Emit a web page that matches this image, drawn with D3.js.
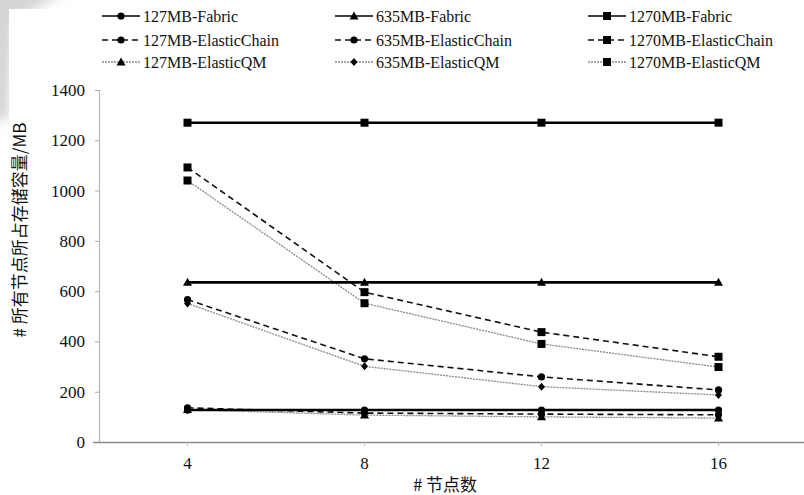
<!DOCTYPE html>
<html>
<head>
<meta charset="utf-8">
<script src="https://cdn.jsdelivr.net/npm/d3@7"></script>
<style>
  html, body { margin: 0; padding: 0; background: #fff; }
  svg { display: block; }
  text { font-family: "Liberation Serif", "Times New Roman", serif; fill: #111; }
  text.cjk { font-family: "Noto Sans CJK SC", "Liberation Serif", serif; }
</style>
</head>
<body>
<svg id="chart" width="804" height="495"></svg>
<script>
// ---- data ----
const nodes = [4, 8, 12, 16];
const yTicks = [0, 200, 400, 600, 800, 1000, 1200, 1400];

const fabric127 = [127, 127, 127, 127];
const fabric635 = [635, 635, 635, 635];
const fabric1270 = [1270, 1270, 1270, 1270];
const chain127 = [136, 115, 111, 108];
const chain635 = [566, 331, 259, 207];
const chain1270 = [1092, 596, 437, 339];
const qm127 = [129, 107, 100, 95];
const qm635 = [551, 301, 220, 187];
const qm1270 = [1040, 552, 390, 298];

const seriesNames = [
  "127MB-Fabric", "635MB-Fabric", "1270MB-Fabric",
  "127MB-ElasticChain", "635MB-ElasticChain", "1270MB-ElasticChain",
  "127MB-ElasticQM", "635MB-ElasticQM", "1270MB-ElasticQM"
];
const xTitle = "# 节点数";
const yTitle = "# 所有节点所占存储容量/MB";

// ---- build series ----
const styles = {
  Fabric: { stroke: "#000", width: 2.6, dash: null },
  ElasticChain: { stroke: "#111", width: 1.6, dash: "6,4" },
  ElasticQM: { stroke: "#8a8a8a", width: 1.3, dash: "2,1" }
};
const series = [
  { name: seriesNames[0], values: fabric127, kind: "Fabric", marker: "circle" },
  { name: seriesNames[1], values: fabric635, kind: "Fabric", marker: "triangle" },
  { name: seriesNames[2], values: fabric1270, kind: "Fabric", marker: "square" },
  { name: seriesNames[3], values: chain127, kind: "ElasticChain", marker: "circle" },
  { name: seriesNames[4], values: chain635, kind: "ElasticChain", marker: "circle" },
  { name: seriesNames[5], values: chain1270, kind: "ElasticChain", marker: "square" },
  { name: seriesNames[6], values: qm127, kind: "ElasticQM", marker: "triangle" },
  { name: seriesNames[7], values: qm635, kind: "ElasticQM", marker: "diamond" },
  { name: seriesNames[8], values: qm1270, kind: "ElasticQM", marker: "square" }
];

const svg = d3.select("#chart");

// scan smudge at top-left
const defs = svg.append("defs");
defs.append("filter").attr("id", "blur").append("feGaussianBlur").attr("stdDeviation", 6);
svg.append("path")
  .attr("d", "M-10,-10 L70,-10 L14,20 L8,120 L-10,120 Z")
  .attr("fill", "#d4d4d4").attr("filter", "url(#blur)");
svg.append("rect").attr("x", 9).attr("y", 9).attr("width", 804).attr("height", 495).attr("fill", "#fff");

// ---- scales ----
const x = d3.scaleBand().domain(nodes).range([99, 807]).paddingInner(0).paddingOuter(0);
const y = d3.scaleLinear().domain([0, 1400]).range([442, 90]);
const cx = d => x(d) + x.bandwidth() / 2;

// ---- axes ----
const yAxis = d3.axisLeft(y).tickValues(yTicks).tickSize(4).tickPadding(10).tickFormat(d3.format("d"));
const gy = svg.append("g").attr("transform", "translate(99,0)").call(yAxis);
gy.attr("font-family", null);
gy.select(".domain").attr("stroke", "#b5b5b5").attr("stroke-width", 1.2);
gy.selectAll(".tick line").attr("stroke", "#aaa");
gy.selectAll(".tick text").style("font-size", "17px").style("font-family", "'Liberation Serif', serif").style("fill", "#111");

const xAxis = d3.axisBottom(x).tickSize(4).tickPadding(11).tickSizeOuter(0);
const gx = svg.append("g").attr("transform", "translate(0,442)").call(xAxis);
gx.attr("font-family", null);
gx.select(".domain").attr("stroke", "#8a8a8a").attr("stroke-width", 1.4)
  .attr("d", "M93,0.5H807");
gx.selectAll(".tick line").attr("stroke", "#bbb");
gx.selectAll(".tick text").style("font-size", "17px").style("font-family", "'Liberation Serif', serif").style("fill", "#111");

// ---- titles ----
svg.append("text").attr("class", "cjk").attr("x", 445).attr("y", 491)
  .attr("text-anchor", "middle").attr("font-size", 17).text(xTitle);
svg.append("text").attr("class", "cjk")
  .attr("transform", "translate(26,230) rotate(-90)")
  .attr("text-anchor", "middle").attr("font-size", 17).text(yTitle);

// ---- markers ----
function drawMarker(g, type, px, py, color) {
  if (type === "square") {
    g.append("rect").attr("x", px - 4).attr("y", py - 4).attr("width", 8).attr("height", 8).attr("fill", color);
  } else if (type === "triangle") {
    g.append("path").attr("d", `M${px},${py - 4.5}L${px + 4.5},${py + 3.5}L${px - 4.5},${py + 3.5}Z`).attr("fill", color);
  } else if (type === "diamond") {
    g.append("path").attr("d", `M${px},${py - 4}L${px + 3.5},${py}L${px},${py + 4}L${px - 3.5},${py}Z`).attr("fill", color);
  } else {
    g.append("circle").attr("cx", px).attr("cy", py).attr("r", 3.6).attr("fill", color);
  }
}

const line = d3.line().x((d, i) => cx(nodes[i])).y(d => y(d));

// draw QM first, then chain, then fabric
const order = [6, 7, 8, 3, 4, 5, 0, 1, 2];
order.forEach(k => {
  const s = series[k];
  const st = styles[s.kind];
  const g = svg.append("g");
  g.append("path").datum(s.values).attr("d", line)
    .attr("fill", "none").attr("stroke", st.stroke).attr("stroke-width", st.width)
    .attr("stroke-dasharray", st.dash);
  s.values.forEach((v, i) => drawMarker(g, s.marker, cx(nodes[i]), y(v), "#000"));
});

// ---- legend ----
const colX = [102, 335, 588];
const rowY = [16, 40, 62];
series.forEach((s, k) => {
  const col = k % 3, row = Math.floor(k / 3);
  const lx = colX[col], ly = rowY[row];
  const st = styles[s.kind];
  const g = svg.append("g");
  g.append("line").attr("x1", lx).attr("x2", lx + 38).attr("y1", ly).attr("y2", ly)
    .attr("stroke", st.stroke).attr("stroke-width", Math.min(st.width, 1.6)).attr("stroke-dasharray", st.dash);
  drawMarker(g, s.marker, lx + 19, ly, "#000");
  g.append("text").attr("x", lx + 41).attr("y", ly + 5.5).attr("font-size", 16).text(s.name);
});
</script>
</body>
</html>
